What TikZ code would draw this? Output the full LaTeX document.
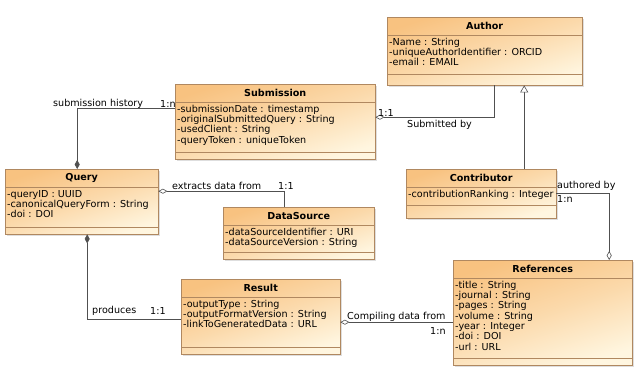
\documentclass[tikz,border=0pt]{standalone}
\usepackage{fontspec}
\setmainfont{DejaVu Sans}
\usepackage{tikz}
\usetikzlibrary{
  arrows.meta,
  positioning,
  shadows
}
\definecolor{umlOrange}{RGB}{248,194,128}
\definecolor{umlCream}{RGB}{255,246,224}
\definecolor{umlBrown}{RGB}{176,136,96}
\definecolor{umlGray}{RGB}{80,80,80}
\tikzset{
  umlClass/.style={
    rectangle,
    anchor=north west,
    draw=umlBrown,
    top color=umlOrange,
    bottom color=umlCream,
    middle color=umlOrange!55!umlCream,
    shading angle=18,
    drop shadow={shadow xshift=2pt, shadow yshift=-2pt, fill=black!25},
    inner sep=0pt
  },
  umlTitle/.style={
    anchor=north,
    minimum height=18pt,
    inner sep=0pt,
    font=\bfseries\fontsize{9.6}{11}\selectfont
  },
  umlAttr/.style={
    anchor=north west,
    align=left,
    inner xsep=2pt,
    inner ysep=2.5pt,
    font=\fontsize{9.6}{10.3}\selectfont
  },
  umlSep/.style={
    draw=umlBrown
  },
  umlLabel/.style={
    anchor=west,
    inner sep=0pt,
    font=\fontsize{9.6}{11}\selectfont
  },
  umlLink/.style={
    draw=umlGray,
    semithick
  },
  umlAggr/.style={
    umlLink,
    {Diamond[open, fill=white, length=9pt, width=5pt]}-
  },
  umlComp/.style={
    umlLink,
    {Diamond[length=9pt, width=5pt]}-
  },
  umlGen/.style={
    umlLink,
    -{Triangle[open, fill=white, length=7pt, width=8pt]}
  }
}
% name, x, y, width, height, title, attributes, bottom gap
\newcommand{\umlBox}[8]{%
  \node[umlClass, minimum width=#4pt, minimum height=#5pt] (#1) at (#2,#3) {};
  \node[umlTitle] (#1Title) at (#1.north) {#6};
  \node[umlAttr] (#1Attr) at (#1Title.south -| #1.west) {#7};
  \draw[umlSep] (#1Title.south -| #1.west) -- (#1Title.south -| #1.east);
  \draw[umlSep] ([yshift=#8pt]#1.south west) -- ([yshift=#8pt]#1.south east);
}

\begin{document}
\begin{tikzpicture}[x=1pt, y=-1pt]
  \fill[white] (0,0) rectangle (640,379);
  \useasboundingbox (0,0) rectangle (640,379);

  \umlBox{author}{387}{17}{195}{68}{Author}
    {-Name : String\\-uniqueAuthorIdentifier : ORCID\\-email : EMAIL}{11}
  \umlBox{submission}{175}{84}{200}{75}{Submission}
    {-submissionDate : timestamp\\-originalSubmittedQuery : String\\
     -usedClient : String\\-queryToken : uniqueToken}{7}
  \umlBox{query}{5}{169}{153}{65}{Query}
    {-queryID : UUID\\-canonicalQueryForm : String\\-doi : DOI}{7}
  \umlBox{source}{223}{207}{151}{52}{DataSource}
    {-dataSourceIdentifier : URI\\-dataSourceVersion : String}{7}
  \umlBox{contributor}{406}{169}{150}{49}{Contributor}
    {-contributionRanking : Integer}{13}
  \umlBox{result}{181}{279}{159}{75}{Result}
    {-outputType : String\\-outputFormatVersion : String\\
     -linkToGeneratedData : URL}{7}
  \umlBox{references}{453}{260}{179}{105}{References}
    {-title : String\\-journal : String\\-pages : String\\-volume : String\\
     -year : Integer\\-doi : DOI\\-url : URL}{7}

  \draw[umlComp] ([xshift=-4.5pt]query.north) |- ([yshift=13.5pt]submission.west);
  \draw[umlAggr] ([yshift=4.5pt]submission.east) -| ([xshift=9.5pt]author.south);
  \draw[umlGen] ([xshift=43pt]contributor.north)
    -- ([xshift=43pt]contributor.north |- author.south);
  \draw[umlAggr] ([yshift=10.5pt]query.east) -| ([xshift=-14.5pt]source.north);
  \draw[umlComp] ([xshift=5.5pt]query.south) |- ([yshift=-2.5pt]result.west);
  \draw[umlAggr] ([yshift=-5.5pt]result.east) -- ([yshift=-5.5pt]result.east -| references.west);
  \draw[umlAggr] ([xshift=66.5pt]references.north) |- (contributor.east);

  \node[umlLabel] (historyLbl) at (53,104) {submission history};
  \node[umlLabel] (historyMul) at (160,104) {1:n};
  \node[umlLabel] (submitMul) at (378,113) {1:1};
  \node[umlLabel] (submitLbl) at (407,125) {Submitted by};
  \node[umlLabel] (extractLbl) at (172,186) {extracts data from};
  \node[umlLabel] (extractMul) at (278,186) {1:1};
  \node[umlLabel] (authorLbl) at (557,186) {authored by};
  \node[umlLabel] (authorMul) at (557,199) {1:n};
  \node[umlLabel] (produceLbl) at (92,311) {produces};
  \node[umlLabel] (produceMul) at (150,311) {1:1};
  \node[umlLabel] (compileLbl) at (347,317) {Compiling data from};
  \node[umlLabel] (compileMul) at (430,331) {1:n};
\end{tikzpicture}
\end{document}
